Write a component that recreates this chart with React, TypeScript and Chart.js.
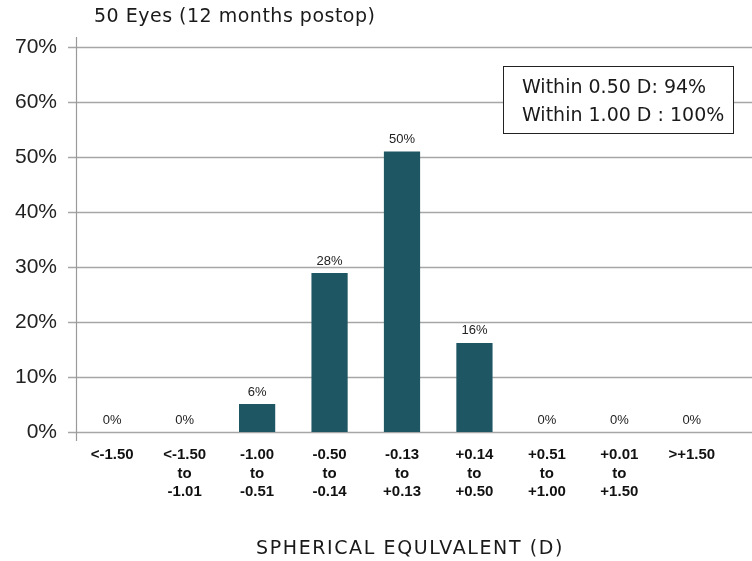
import { useEffect, useRef } from "react";
import { Chart, registerables } from "chart.js";

Chart.register(...registerables);

const categories: string[][] = [
  ["<-1.50"],
  ["<-1.50", "to", "-1.01"],
  ["-1.00", "to", "-0.51"],
  ["-0.50", "to", "-0.14"],
  ["-0.13", "to", "+0.13"],
  ["+0.14", "to", "+0.50"],
  ["+0.51", "to", "+1.00"],
  ["+0.01", "to", "+1.50"],
  [">+1.50"],
];
const barValues = [0, 0, 5.1, 28.9, 51, 16.2, 0, 0, 0];
const valueLabels = ["0%", "0%", "6%", "28%", "50%", "16%", "0%", "0%", "0%"];
const yTicks = [0, 10, 20, 30, 40, 50, 60, 70];
const titleText = "50 Eyes (12 months postop)";
const boxLines = ["Within 0.50 D: 94%", "Within 1.00 D : 100%"];
const xTitle = "SPHERICAL EQULVALENT (D)";

const GEO = "'DejaVu Sans', 'Open Sans', sans-serif";
const ARIAL = "'Liberation Sans', Arial, sans-serif";

const customPlugin = {
  id: "custom",
  beforeDatasetsDraw(chart: any) {
    const { ctx, chartArea, scales } = chart;
    const y = scales.y;
    ctx.save();
    ctx.strokeStyle = "#a6a6a6";
    ctx.lineWidth = 1.6;
    yTicks.forEach((t) => {
      const py = Math.round(y.getPixelForValue(t)) + 0.5;
      ctx.beginPath();
      ctx.moveTo(chartArea.left - 8, py);
      ctx.lineTo(chart.width, py);
      ctx.stroke();
    });
    ctx.lineWidth = 1.2;
    ctx.strokeStyle = "#9a9a9a";
    ctx.beginPath();
    ctx.moveTo(chartArea.left + 0.5, chartArea.top - 10);
    ctx.lineTo(chartArea.left + 0.5, chartArea.bottom + 9);
    ctx.stroke();
    ctx.restore();
  },
  afterDraw(chart: any) {
    const { ctx } = chart;
    const meta = chart.getDatasetMeta(0);
    ctx.save();
    ctx.fillStyle = "#222";
    ctx.font = `13px ${ARIAL}`;
    ctx.textAlign = "center";
    ctx.textBaseline = "middle";
    meta.data.forEach((bar: any, i: number) => {
      ctx.fillText(valueLabels[i], bar.x, bar.y - 12);
    });

    // title
    ctx.fillStyle = "#1a1a1a";
    ctx.font = `19px ${GEO}`;
    ctx.textAlign = "left";
    (ctx as any).letterSpacing = "0.5px";
    ctx.fillText(titleText, 94, 17);

    // box
    (ctx as any).letterSpacing = "0px";
    ctx.fillStyle = "#ffffff";
    ctx.fillRect(503, 66, 230, 67);
    ctx.strokeStyle = "#222";
    ctx.lineWidth = 1;
    ctx.strokeRect(503.5, 66.5, 230, 67);
    ctx.fillStyle = "#1a1a1a";
    ctx.font = `19px ${GEO}`;
    ctx.textAlign = "left";
    ctx.fillText(boxLines[0], 522, 88);
    ctx.fillText(boxLines[1], 522, 116);

    // x title
    ctx.textAlign = "center";
    ctx.font = `19px ${GEO}`;
    (ctx as any).letterSpacing = "1.6px";
    ctx.fillText(xTitle, 410, 549);
    ctx.restore();
  },
};

export default function App() {
  const ref = useRef<HTMLCanvasElement | null>(null);
  useEffect(() => {
    document.body.style.margin = "0";
    if (!ref.current) return;
    const chart = new Chart(ref.current, {
      type: "bar",
      data: {
        labels: categories,
        datasets: [
          {
            data: barValues,
            backgroundColor: "#1f5663",
            barPercentage: 0.5,
            categoryPercentage: 1,
          },
        ],
      },
      options: {
        animation: false,
        responsive: false,
        layout: { padding: { top: 47, right: 24, left: 0, bottom: 0 } },
        plugins: {
          legend: { display: false },
          tooltip: { enabled: false },
          title: { display: false },
        },
        scales: {
          x: {
            grid: { display: false },
            border: { display: false },
            ticks: {
              color: "#111",
              font: { family: ARIAL, size: 15, weight: "bold", lineHeight: 1.22 },
              padding: 6,
              maxRotation: 0,
              autoSkip: false,
            },
            afterFit: (s: any) => {
              s.height = 129;
            },
          },
          y: {
            min: 0,
            max: 70,
            grid: { display: false },
            border: { display: false },
            afterBuildTicks: (s: any) => {
              s.ticks = yTicks.map((v) => ({ value: v }));
            },
            ticks: {
              color: "#222",
              font: { family: ARIAL, size: 21 },
              padding: 11,
              callback: (v: any) => `${v}%`,
            },
            afterFit: (s: any) => {
              s.width = 76;
            },
          },
        },
      },
      plugins: [customPlugin],
    });
    return () => chart.destroy();
  }, []);
  return (
    <div style={{ position: "absolute", left: 0, top: 0, width: 752, height: 561 }}>
      <canvas ref={ref} width={752} height={561} />
    </div>
  );
}
